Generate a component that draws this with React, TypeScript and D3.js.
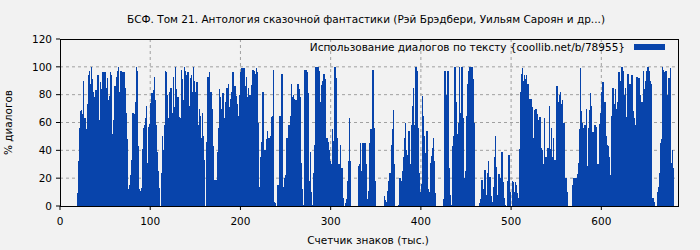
import React from "react";
import * as d3 from "d3";

const title = "БСФ. Том 21. Антология сказочной фантастики (Рэй Брэдбери, Уильям Сароян и др...)";
const seriesName = "Использование диалогов по тексту {coollib.net/b/78955}";
const xAxisLabel = "Счетчик знаков (тыс.)";
const yAxisLabel = "% диалогов";
const xTicks = [0, 100, 200, 300, 400, 500, 600];
const yTicks = [0, 20, 40, 60, 80, 100, 120];
const firstThousand = 19;
// share of dialogue (%) per 1000 characters, starting at 19k
const dialogShare = [
  9,32,56,68,69,66,90,57,63,55,
  45,73,94,97,88,100,91,82,74,78,
  83,68,94,94,62,89,84,87,96,92,
  96,81,85,92,76,79,96,94,43,52,
  62,86,86,93,97,100,82,96,97,95,
  96,96,85,69,67,48,12,8,15,22,
  33,67,66,60,75,100,97,43,12,11,
  10,13,41,56,58,63,72,31,55,57,
  59,74,81,65,83,93,76,58,39,25,
  13,0,0,24,50,40,58,97,96,80,
  63,48,82,85,22,67,93,71,100,84,
  67,78,64,58,63,98,91,76,100,97,
  94,66,96,72,67,92,94,82,100,90,
  82,59,89,58,35,70,65,49,67,50,
  33,0,0,46,93,79,96,82,82,70,
  43,19,10,19,12,39,56,84,78,70,
  58,81,50,63,75,85,81,88,71,77,
  82,73,96,70,86,79,64,73,65,80,
  96,92,99,94,99,86,70,93,78,85,
  80,80,56,87,98,97,92,95,99,96,
  60,14,4,35,46,82,74,40,40,48,
  54,24,49,47,50,64,65,98,3,2,
  0,7,15,7,65,63,95,61,14,20,
  22,27,49,45,58,45,65,88,78,80,
  77,75,76,66,88,84,78,44,31,12,
  1,2,98,98,96,81,18,0,39,10,
  1,24,22,44,100,100,100,97,61,75,
  87,90,93,95,91,45,49,3,46,40,
  32,30,55,47,30,100,92,49,32,30,
  30,44,17,27,6,0,0,2,5,18,
  32,63,32,0,0,0,0,0,0,0,
  0,29,30,45,25,17,45,38,45,40,
  30,5,11,23,45,55,22,98,56,30,
  18,0,0,0,0,0,0,0,0,0,
  7,4,3,5,11,18,24,19,44,55,
  69,30,0,0,0,0,1,20,12,18,
  25,35,49,60,40,20,37,54,7,30,
  58,72,85,58,80,100,97,56,24,10,
  0,16,79,65,50,38,24,54,12,10,
  8,31,36,42,49,32,9,0,0,0,
  0,0,0,0,0,0,5,97,57,80,
  97,54,27,8,1,43,30,50,100,75,
  52,45,60,100,67,24,100,63,18,20,
  25,65,88,97,100,100,100,100,91,60,
  0,0,0,0,0,2,5,4,19,12,
  9,26,10,8,24,32,17,21,7,3,
  0,14,35,50,28,8,1,23,3,20,
  39,1,17,6,1,0,0,18,37,10,
  0,0,18,17,10,17,15,9,4,6,
  41,82,95,99,90,94,91,94,84,88,
  77,60,77,60,71,49,69,26,70,66,
  62,59,64,59,42,40,30,63,26,35,
  15,42,29,72,41,56,35,49,21,33,
  13,86,55,75,80,82,73,76,53,60,
  17,20,10,0,0,0,0,0,11,15,
  20,16,20,10,23,31,55,99,68,60,
  49,56,58,35,70,29,56,69,81,72,
  49,53,31,58,17,57,30,30,59,62,
  67,82,89,73,75,60,50,44,43,35,
  22,22,65,85,73,69,84,70,75,88,
  96,90,76,100,97,91,80,85,64,90,
  95,77,88,61,94,69,68,63,58,75,
  93,82,92,80,60,75,54,97,84,90,
  84,97,100,97,90,88,77,6,6,3,
  0,0,0,10,14,24,45,48,100,98,
  96,78,97,72,80,92,64,99,31,40,
  27
];

const W = 700, H = 250;
const left = 60, right = 678, top = 39, bottom = 206;
const barColor = "#0844ab";
const font = "DejaVu Sans, sans-serif";

export default function App() {
  React.useEffect(() => { document.body.style.margin = "0"; }, []);
  const x = d3.scaleLinear().domain([0, 685]).range([left, right]);
  const y = d3.scaleLinear().domain([0, 120]).range([bottom, top]);
  const step = x(1) - x(0);
  return (
    <svg width={W} height={H} style={{ display: "block" }} fontFamily={font}>
      <rect x={0} y={0} width={W} height={H} fill="#f2f2f2" />
      {yTicks.filter(t => t > 0 && t < 120).map(t => (
        <line key={"gy" + t} x1={left} x2={right} y1={y(t)} y2={y(t)} stroke="#a0a0a0" strokeDasharray="3,3" />
      ))}
      {xTicks.filter(t => t > 0).map(t => (
        <line key={"gx" + t} x1={x(t)} x2={x(t)} y1={top} y2={bottom} stroke="#a0a0a0" strokeDasharray="3,3" />
      ))}
      <g shapeRendering="crispEdges">
        {dialogShare.map((v, i) => v > 0 ? (
          <rect key={i} x={x(firstThousand + i)} y={y(v)} width={step + 0.6} height={y(0) - y(v)} fill={barColor} />
        ) : null)}
      </g>
      <rect x={left} y={top} width={right - left} height={bottom - top} fill="none" stroke="#000" strokeWidth={1} shapeRendering="crispEdges" />
      {yTicks.map(t => (
        <g key={"ty" + t}>
          <line x1={left - 4} x2={left} y1={y(t)} y2={y(t)} stroke="#000" />
          <text x={left - 8} y={y(t)} dy="0.35em" textAnchor="end" fontSize={10.5} fill="#000">{t}</text>
        </g>
      ))}
      {xTicks.map(t => (
        <g key={"tx" + t}>
          <line x1={x(t)} x2={x(t)} y1={bottom} y2={bottom + 4} stroke="#000" />
          <text x={x(t)} y={bottom + 19} textAnchor="middle" fontSize={10.5} fill="#000">{t}</text>
        </g>
      ))}
      <text x={366} y={23} textAnchor="middle" fontSize={10.5} fill="#000">{title}</text>
      <text x={368} y={244} textAnchor="middle" fontSize={10.5} fill="#000">{xAxisLabel}</text>
      <text transform={`translate(12, ${(top + bottom) / 2}) rotate(-90)`} textAnchor="middle" fontSize={10.5} fill="#000">{yAxisLabel}</text>
      <text x={625} y={51} textAnchor="end" fontSize={10.5} fill="#000">{seriesName}</text>
      <rect x={634} y={44} width={31} height={6} fill={barColor} />
    </svg>
  );
}
